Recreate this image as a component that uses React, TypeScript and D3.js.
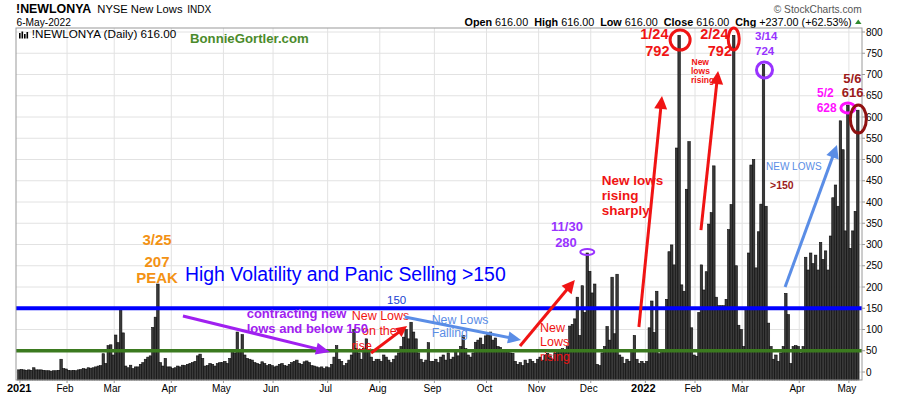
import React from "react";
import * as d3 from "d3";

const monthLabels = ["2021", "Feb", "Mar", "Apr", "May", "Jun", "Jul", "Aug", "Sep", "Oct", "Nov", "Dec", "2022", "Feb", "Mar", "Apr", "May"];

const jan2021 = [5, 6, 5, 4, 5, 4, 10, 5, 5, 5, 4, 3, 3, 2, 3, 3, 4, 30, 8];
const feb2021 = [7, 4, 3, 4, 3, 5, 6, 8, 7, 10, 9, 10, 12, 14, 15, 43, 20, 62, 64];
const mar2021 = [40, 87, 69, 150, 92, 14, 10, 16, 8, 12, 12, 18, 22, 30, 35, 38, 105, 129, 207, 22, 14, 32, 12];
const apr2021 = [12, 8, 10, 14, 12, 16, 15, 18, 20, 22, 25, 38, 42, 32, 14, 15, 20, 18, 14, 20, 22];
const may2021 = [22, 25, 20, 32, 48, 45, 94, 52, 88, 40, 32, 30, 28, 22, 20, 18, 24, 20, 15, 18];
const jun2021 = [15, 12, 14, 18, 20, 15, 14, 18, 22, 25, 28, 20, 18, 24, 26, 22, 15, 14, 12, 10, 12, 8];
const jul2021 = [12, 10, 18, 35, 62, 30, 25, 15, 20, 28, 40, 100, 55, 45, 30, 55, 78, 50, 35, 25, 30];
const aug2021 = [30, 25, 40, 35, 28, 22, 30, 38, 45, 60, 82, 100, 78, 117, 94, 78, 45, 30, 22, 28, 69, 25];
const sep2021 = [25, 30, 22, 35, 40, 28, 45, 30, 35, 50, 38, 60, 86, 55, 40, 35, 45, 70, 75, 80, 65];
const oct2021 = [85, 90, 94, 75, 80, 60, 58, 50, 48, 52, 45, 44, 25, 18, 22, 15, 28, 20, 30, 25, 20];
const nov2021 = [30, 35, 28, 40, 44, 38, 30, 45, 52, 50, 55, 52, 60, 108, 112, 125, 176, 86, 203, 140, 280];
const dec2021 = [237, 186, 207, 18, 15, 45, 60, 107, 75, 223, 90, 230, 40, 35, 20, 30, 25, 50, 86, 30, 20, 25];
const jan2022 = [20, 25, 104, 167, 93, 190, 43, 51, 50, 171, 283, 299, 252, 527, 792, 205, 190, 430, 542, 104];
const feb2022 = [40, 37, 140, 252, 193, 236, 348, 375, 485, 176, 156, 156, 156, 171, 335, 394, 792, 250, 110];
const mar2022 = [100, 60, 150, 280, 487, 500, 245, 330, 395, 724, 390, 115, 60, 30, 40, 25, 45, 60, 185, 135, 20, 60, 62];
const apr2022 = [60, 45, 60, 270, 240, 280, 255, 275, 240, 305, 265, 285, 240, 320, 410, 440, 390, 591, 523, 332];
const may2022 = [628, 291, 332, 378, 616];

const months = [jan2021, feb2021, mar2021, apr2021, may2021, jun2021, jul2021, aug2021, sep2021, oct2021, nov2021, dec2021, jan2022, feb2022, mar2022, apr2022, may2022];

const yTicks = d3.range(0, 801, 50);

const quoteLabels = ["Open", "High", "Low", "Close", "Chg"];
const quoteValues = ["616.00", "616.00", "616.00", "616.00", "+237.00 (+62.53%)"];

const FONT = "'Liberation Sans', Arial, Helvetica, sans-serif";

type Pt = [number, number];

function Arrow({ from, to, color, w = 3, head = 13, hw = 6 }: { from: Pt; to: Pt; color: string; w?: number; head?: number; hw?: number }) {
  const [x1, y1] = from;
  const [x2, y2] = to;
  const a = Math.atan2(y2 - y1, x2 - x1);
  const bx = x2 - head * Math.cos(a);
  const by = y2 - head * Math.sin(a);
  const px = -Math.sin(a) * hw;
  const py = Math.cos(a) * hw;
  return (
    <g>
      <line x1={x1} y1={y1} x2={bx + Math.cos(a) * 2} y2={by + Math.sin(a) * 2} stroke={color} strokeWidth={w} />
      <polygon points={`${x2},${y2} ${bx + px},${by + py} ${bx - px},${by - py}`} fill={color} />
    </g>
  );
}

export default function App() {
  const values = months.flat();
  const n = values.length;
  const starts: number[] = [];
  let acc = 0;
  months.forEach((m) => {
    starts.push(acc);
    acc += m.length;
  });

  const left = 16;
  const right = 862;
  const top = 28;
  const bottom = 380;

  const x = d3.scaleBand<number>().domain(d3.range(n)).range([17.66, 17.66 + n * 2.482]).padding(0);
  const step = x.step();
  const xc = (i: number) => (x(Math.floor(i)) as number) + step / 2 + (i - Math.floor(i)) * step;
  const y = d3.scaleLinear().domain([0, 800]).range([372, 32]);
  const P = (i: number, v: number): Pt => [xc(i), y(v)];

  const red = "#f01414";
  const purple = "#a020f0";
  const lightBlue = "#5a8de6";
  const orange = "#f39214";
  const darkRed = "#9c1a1a";
  const magenta = "#ff10ff";

  return (
    <div style={{ position: "fixed", left: 0, top: 0 }}>
      <svg width={900} height={396} style={{ display: "block", fontFamily: FONT }}>
        <rect x={0} y={0} width={900} height={396} fill="#fff" />
        {/* header */}
        <text x={16} y={13.3} fontSize={12.4} fontWeight="bold" fill="#000">!NEWLONYA</text>
        <text x={97.3} y={13.3} fontSize={11.2} fill="#000">NYSE New Lows</text>
        <text x={187.3} y={13.3} fontSize={10} fill="#000">INDX</text>
        <text x={16.5} y={26} fontSize={10.2} fill="#000">6-May-2022</text>
        <text x={861.7} y={12.7} fontSize={10.2} fill="#555" textAnchor="end">© StockCharts.com</text>
        <text x={851.7} y={26} fontSize={10.8} fill="#000" textAnchor="end">
          {quoteLabels.map((l, k) => (
            <React.Fragment key={l}>
              <tspan fontWeight="bold" dx={k === 0 ? 0 : 6}>{l}</tspan>
              <tspan dx={3}>{quoteValues[k]}</tspan>
            </React.Fragment>
          ))}
        </text>
        <polygon points="855,24 861.5,24 858.25,19.5" fill="#2e8b2e" />

        {/* grid */}
        {yTicks.map((t) => (
          <line key={"h" + t} x1={left} x2={right} y1={y(t)} y2={y(t)} stroke="#e2e2e2" strokeWidth={1} />
        ))}
        {starts.map((s, k) =>
          k === 0 ? null : (
            <line key={"v" + k} x1={xc(s) + 1} x2={xc(s) + 1} y1={top} y2={bottom} stroke="#e2e2e2" strokeWidth={1} />
          )
        )}

        {/* bars */}
        <g>
          {values.map((v, i) => (
            <rect
              key={i}
              x={x(i) as number}
              y={y(v)}
              width={step}
              height={bottom - y(v)}
              fill="#3a3a3a"
              stroke="#0a0a0a"
              strokeWidth={0.6}
            />
          ))}
        </g>

        {/* reference lines */}
        <line x1={left} x2={right} y1={y(150)} y2={y(150)} stroke="#0000ff" strokeWidth={4} />
        <line x1={left} x2={right} y1={y(50)} y2={y(50)} stroke="#3b7a1f" strokeWidth={3.5} />

        {/* frame */}
        <rect x={left} y={top} width={right - left} height={bottom - top} fill="none" stroke="#9a9a9a" strokeWidth={1} />

        {/* y axis labels */}
        {yTicks.map((t) => (
          <g key={"yt" + t}>
            <line x1={right} x2={right + 3} y1={y(t)} y2={y(t)} stroke="#9a9a9a" />
            <text x={866} y={y(t) + 3.5} fontSize={10} fill="#000">{t}</text>
          </g>
        ))}

        {/* x axis labels */}
        {starts.map((s, k) => {
          const lab = monthLabels[k];
          const isYear = /^\d{4}$/.test(lab);
          return (
            <g key={"xl" + k}>
              <line x1={xc(s) + 1} x2={xc(s) + 1} y1={bottom} y2={bottom + 3} stroke="#9a9a9a" />
              <text x={k === 0 ? 7 : xc(s) - 1} y={392} fontSize={isYear ? 11 : 10} fontWeight={isYear ? "bold" : "normal"} textAnchor={k === 0 ? "start" : "middle"} fill="#000">
                {lab}
              </text>
            </g>
          );
        })}

        {/* inner title */}
        <g fill="#000">
          <rect x={19} y={33} width={1.6} height={5.5} />
          <rect x={21.5} y={31.5} width={1.6} height={7} />
          <rect x={24} y={34} width={1.6} height={4.5} />
          <rect x={26.5} y={32} width={1.6} height={6.5} />
        </g>
        <text x={31.7} y={38.3} fontSize={11.7} fill="#000">!NEWLONYA (Daily) 616.00</text>
        <text x={190} y={43.3} fontSize={13.2} fontWeight="bold" fill="#4b8b2b">BonnieGortler.com</text>

        {/* annotations */}
        <g fontWeight="bold" fill={orange} fontSize={15} textAnchor="middle">
          <text x={157} y={245}>3/25</text>
          <text x={157} y={267}>207</text>
          <text x={157} y={283}>PEAK</text>
        </g>
        <text x={185} y={281} fontSize={19.4} fill="#0000ff">High Volatility and Panic Selling &gt;150</text>
        <text x={387} y={304} fontSize={11.5} fill="#1a3fcf">150</text>

        <g fontSize={12.5} fill={red}>
          <text x={351.7} y={319.5}>New Lows</text>
          <text x={362} y={334.5}>on the</text>
          <text x={351.7} y={349.5}>rise</text>
        </g>
        <g fontSize={13} fontWeight="bold" fill={purple}>
          <text x={246.7} y={318}>contracting new</text>
          <text x={246.7} y={333}>lows and below 150</text>
        </g>
        <Arrow from={P(66.1, 131.8)} to={P(125.3, 47)} color={purple} w={3} head={14} hw={6} />
        <Arrow from={P(141.9, 44.7)} to={P(156.4, 108.2)} color={red} w={3} head={11} hw={5.5} />

        <g fontSize={12.3} fill={lightBlue}>
          <text x={431.7} y={323.5}>New Lows</text>
          <text x={431.7} y={336.5}>Falling</text>
        </g>
        <Arrow from={P(155.5, 129.4)} to={P(202.3, 75.3)} color={lightBlue} w={3} head={13} hw={6} />

        <g fontSize={12.5} fill={red}>
          <text x={540} y={332}>New</text>
          <text x={540} y={346}>Lows</text>
          <text x={540} y={361}>rising</text>
        </g>
        <Arrow from={P(201.9, 61.2)} to={P(224, 216.5)} color={red} w={3} head={13} hw={6.5} />

        <g fontSize={13} fontWeight="bold" fill="#9933ff" textAnchor="middle">
          <text x={567} y={231}>11/30</text>
          <text x={566} y={246.5}>280</text>
        </g>
        <ellipse cx={xc(229)} cy={y(280) - 1} rx={7} ry={3} fill="none" stroke="#9933ff" strokeWidth={2} />

        <g fontSize={13.5} fontWeight="bold" fill={red}>
          <text x={601.7} y={185}>New lows</text>
          <text x={601.7} y={200}>rising</text>
          <text x={601.7} y={215}>sharply</text>
        </g>
        <Arrow from={P(249.8, 105.9)} to={P(259.1, 649.4)} color={red} w={3} head={13} hw={6.5} />

        <g fontSize={14.5} fontWeight="bold" fill={red} textAnchor="end">
          <text x={668.5} y={39}>1/24</text>
          <text x={669.5} y={56}>792</text>
          <text x={728.5} y={39}>2/24</text>
          <text x={732} y={56}>792</text>
        </g>
        <ellipse cx={xc(266) + 1} cy={40} rx={10} ry={10} fill="none" stroke={red} strokeWidth={3} />
        <ellipse cx={xc(288)} cy={39} rx={5.5} ry={11} fill="none" stroke={red} strokeWidth={3} />

        <g fontSize={8.5} fontWeight="bold" fill={red}>
          <text x={691.5} y={65}>New</text>
          <text x={691} y={74}>lows</text>
          <text x={691} y={83}>rising</text>
        </g>
        <Arrow from={P(274.8, 334)} to={P(281.7, 708.2)} color={red} w={3} head={13} hw={6.5} />

        <g fontSize={11.5} fontWeight="bold" fill="#9933ff">
          <text x={755} y={40}>3/14</text>
          <text x={755} y={55}>724</text>
        </g>
        <ellipse cx={xc(300) + 1} cy={70} rx={8} ry={8} fill="none" stroke="#9933ff" strokeWidth={3} />

        <text x={766} y={170} fontSize={10} fill={lightBlue}>NEW LOWS</text>
        <text x={770} y={188.5} fontSize={10.5} fontWeight="bold" fill={darkRed}>&gt;150</text>
        <Arrow from={P(308.7, 200)} to={P(329.6, 534)} color={lightBlue} w={3} head={13} hw={6.5} />

        <g fontSize={12} fontWeight="bold" fill={magenta}>
          <text x={817} y={96.7}>5/2</text>
          <text x={816.7} y={111.7}>628</text>
        </g>
        <ellipse cx={xc(334)} cy={108} rx={7} ry={5} fill="none" stroke={magenta} strokeWidth={3} />

        <g fontSize={13} fontWeight="bold" fill={darkRed}>
          <text x={843.3} y={83.3}>5/6</text>
          <text x={841.7} y={97.3}>616</text>
        </g>
        <ellipse cx={xc(338) + 0.5} cy={119} rx={8} ry={14} fill="none" stroke="#8f1010" strokeWidth={3} />
      </svg>
    </div>
  );
}
